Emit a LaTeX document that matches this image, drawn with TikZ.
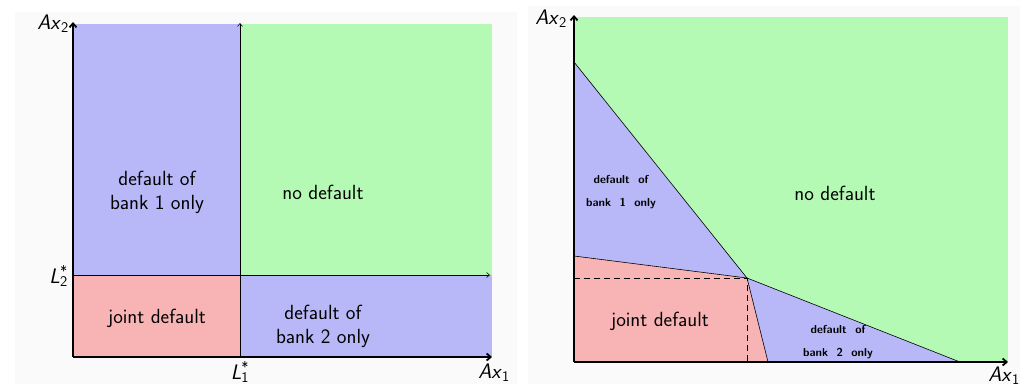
\documentclass[tikz,border=0pt]{standalone}
\usetikzlibrary{arrows.meta}
\definecolor{bblue}{RGB}{184,184,248}
\definecolor{bgreen}{RGB}{181,250,180}
\definecolor{bred}{RGB}{248,180,180}
\definecolor{panel}{RGB}{250,250,250}
\begin{document}
\begin{tikzpicture}[x=1pt,y=-1pt,
  axis/.style={line width=1.8pt,-{Straight Barb[length=4pt,width=7pt]}},
  thin/.style={line width=0.6pt},
  thinarrow/.style={line width=0.6pt,-{Straight Barb[length=3pt,width=5pt]}},
  lbl/.style={font=\fontsize{20.5}{24}\selectfont\sffamily,align=center,inner sep=0pt},
  small/.style={font=\fontsize{11.5}{23}\selectfont\sffamily\bfseries,align=center,inner sep=0pt},
  axl/.style={font=\fontsize{21}{24}\selectfont\sffamily,inner sep=0pt}]
\useasboundingbox (0,0) rectangle (1026,384);
\fill[white] (0,0) rectangle (1026,384);
\fill[panel] (15,12) rectangle (517,384);
\fill[panel] (528,6) rectangle (1020,384);
% ---------- left panel ----------
\fill[bblue] (73,24) rectangle (240,275);
\fill[bgreen] (240,24) rectangle (492,275);
\fill[bred] (73,275) rectangle (240,357);
\fill[bblue] (240,275) rectangle (492,357);
\coordinate (LO) at (73,357);
\coordinate (LYT) at (73,22);
\coordinate (LXT) at (492,357);
\coordinate (LVb) at (240,357);
\coordinate (LVt) at (240,23);
\coordinate (LHl) at (73,275);
\coordinate (LHr) at (490,275);
\draw[thinarrow] (LVb) -- (LVt);
\draw[thinarrow] (LHl) -- (LHr);
\draw[axis] (LO) -- (LYT);
\draw[axis] (LO) -- (LXT);
\node[axl,anchor=east] (lax2) at (69,24) {\textit{Ax}\textsubscript{2}};
\node[axl] (lax1) at (494,373) {\textit{Ax}\textsubscript{1}};
\node[axl,anchor=east] (ll2) at (68,276) {\textit{L}\rlap{\textsuperscript{*}}\textsubscript{2}};
\node[axl] (ll1) at (240,372) {\textit{L}\rlap{\textsuperscript{*}}\textsubscript{1}};
\node[lbl] (lb1) at (157,192) {default of\\bank 1 only};
\node[lbl] (lnd) at (323,192) {no default};
\node[lbl] (ljd) at (157,318) {joint default};
\node[lbl] (lb2) at (323,326) {default of\\bank 2 only};
% ---------- right panel ----------
\fill[bgreen] (574,17) rectangle (1008,362);
\coordinate (RO) at (574,362);
\coordinate (RYT) at (574,15);
\coordinate (RXT) at (1008,362);
\coordinate (A) at (574,62);
\coordinate (P) at (747,278);
\coordinate (B) at (574,256);
\coordinate (C) at (768,362);
\coordinate (D) at (960,362);
\coordinate (Py) at (574,278);
\coordinate (Px) at (747,362);
\fill[bblue] (A) -- (P) -- (B) -- cycle;
\fill[bred] (B) -- (P) -- (C) -- (RO) -- cycle;
\fill[bblue] (P) -- (D) -- (C) -- cycle;
\draw[thin] (A) -- (P) -- (D);
\draw[thin] (B) -- (P) -- (C);
\draw[thin,dashed,dash pattern=on 6pt off 4pt] (Py) -- (P) -- (Px);
\draw[axis] (RO) -- (RYT);
\draw[axis] (RO) -- (RXT);
\node[axl,anchor=east] (rax2) at (567,19) {\textit{Ax}\textsubscript{2}};
\node[axl,anchor=north] (rax1) at (1004,367) {\textit{Ax}\textsubscript{1}};
\node[small] (rb1) at (621,192) {default\ \ of\\bank\ \ 1\ \ only};
\node[lbl] (rnd) at (835,193) {no default};
\node[lbl] (rjd) at (660,321) {joint default};
\node[small] (rb2) at (838,342) {default\ \ of\\bank\ \ 2\ \ only};
\end{tikzpicture}
\end{document}
